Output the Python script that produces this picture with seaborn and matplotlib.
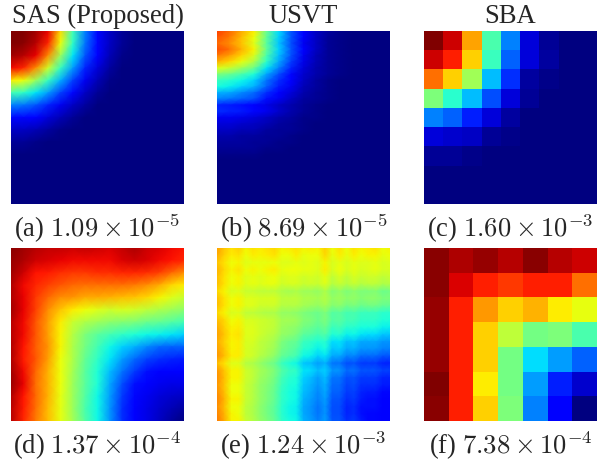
import numpy as np
import matplotlib
matplotlib.use('Agg')
import matplotlib.pyplot as plt
import seaborn as sns

sns.set_style('white')
plt.rcParams['font.family'] = ['Liberation Serif', 'DejaVu Serif']
plt.rcParams['mathtext.fontset'] = 'cm'

column_titles = ['SAS (Proposed)', 'USVT', 'SBA']
captions = [r'(a) $1.09 \times 10^{-5}$', r'(b) $8.69 \times 10^{-5}$', r'(c) $1.60 \times 10^{-3}$',
            r'(d) $1.37 \times 10^{-4}$', r'(e) $1.24 \times 10^{-3}$', r'(f) $7.38 \times 10^{-4}$']

sas_top = [
    [1.00, 1.00, .97, .91, .68, .43, .25, .13, .06, .02, 0, 0, 0, 0, 0],
    [1.00, .99, .95, .87, .64, .41, .24, .13, .06, .02, 0, 0, 0, 0, 0],
    [.97, .95, .91, .76, .54, .35, .21, .11, .05, .01, 0, 0, 0, 0, 0],
    [.90, .87, .76, .60, .42, .28, .16, .08, .03, 0, 0, 0, 0, 0, 0],
    [.66, .64, .54, .42, .30, .19, .10, .05, .01, 0, 0, 0, 0, 0, 0],
    [.43, .41, .35, .28, .19, .13, .06, .02, 0, 0, 0, 0, 0, 0, 0],
    [.25, .24, .21, .16, .10, .06, .03, 0, 0, 0, 0, 0, 0, 0, 0],
    [.13, .13, .11, .08, .05, .02, 0, 0, 0, 0, 0, 0, 0, 0, 0],
    [.06, .06, .05, .03, .01, 0, 0, 0, 0, 0, 0, 0, 0, 0, 0],
    [.02, .02, .01, 0, 0, 0, 0, 0, 0, 0, 0, 0, 0, 0, 0],
    [0, 0, 0, 0, 0, 0, 0, 0, 0, 0, 0, 0, 0, 0, 0],
    [0, 0, 0, 0, 0, 0, 0, 0, 0, 0, 0, 0, 0, 0, 0],
    [0, 0, 0, 0, 0, 0, 0, 0, 0, 0, 0, 0, 0, 0, 0],
    [0, 0, 0, 0, 0, 0, 0, 0, 0, 0, 0, 0, 0, 0, 0],
    [0, 0, 0, 0, 0, 0, 0, 0, 0, 0, 0, 0, 0, 0, 0],
]

# more rows than columns, the USVT streaks run sideways
usvt_top = [
    [.84, .80, .73, .66, .48, .34, .21, .11, .06, .03, .01, 0, 0, 0, 0],
    [.82, .78, .71, .64, .47, .33, .21, .11, .06, .02, .01, 0, 0, 0, 0],
    [.80, .76, .70, .62, .46, .32, .20, .10, .06, .02, .01, 0, 0, 0, 0],
    [.83, .79, .72, .65, .47, .33, .21, .11, .06, .02, .01, 0, 0, 0, 0],
    [.78, .74, .68, .61, .44, .31, .20, .10, .05, .02, .01, 0, 0, 0, 0],
    [.72, .68, .63, .56, .41, .29, .18, .09, .05, .02, .01, 0, 0, 0, 0],
    [.62, .59, .54, .48, .35, .25, .16, .08, .04, .02, .01, 0, 0, 0, 0],
    [.50, .48, .44, .39, .29, .20, .13, .07, .04, .02, .01, 0, 0, 0, 0],
    [.42, .40, .37, .33, .24, .17, .11, .06, .03, .01, 0, 0, 0, 0, 0],
    [.38, .36, .33, .30, .22, .15, .10, .05, .03, .01, 0, 0, 0, 0, 0],
    [.30, .29, .26, .23, .17, .12, .08, .04, .02, .01, 0, 0, 0, 0, 0],
    [.25, .24, .22, .20, .14, .10, .06, .03, .02, .01, 0, 0, 0, 0, 0],
    [.16, .15, .14, .12, .09, .06, .04, .02, .01, 0, 0, 0, 0, 0, 0],
    [.17, .16, .15, .13, .10, .07, .04, .02, .01, 0, 0, 0, 0, 0, 0],
    [.10, .10, .09, .08, .06, .04, .03, .01, .01, 0, 0, 0, 0, 0, 0],
    [.08, .08, .07, .06, .05, .03, .02, .01, 0, 0, 0, 0, 0, 0, 0],
    [.06, .06, .05, .05, .03, .02, .02, .01, 0, 0, 0, 0, 0, 0, 0],
    [.04, .04, .03, .03, .02, .02, .01, 0, 0, 0, 0, 0, 0, 0, 0],
    [.03, .03, .03, .02, .02, .01, .01, 0, 0, 0, 0, 0, 0, 0, 0],
    [.02, .02, .02, .02, .01, .01, 0, 0, 0, 0, 0, 0, 0, 0, 0],
    [.01, .01, .01, .01, 0, 0, 0, 0, 0, 0, 0, 0, 0, 0, 0],
    [0, 0, 0, 0, 0, 0, 0, 0, 0, 0, 0, 0, 0, 0, 0],
    [0, 0, 0, 0, 0, 0, 0, 0, 0, 0, 0, 0, 0, 0, 0],
    [0, 0, 0, 0, 0, 0, 0, 0, 0, 0, 0, 0, 0, 0, 0],
    [0, 0, 0, 0, 0, 0, 0, 0, 0, 0, 0, 0, 0, 0, 0],
    [0, 0, 0, 0, 0, 0, 0, 0, 0, 0, 0, 0, 0, 0, 0],
    [0, 0, 0, 0, 0, 0, 0, 0, 0, 0, 0, 0, 0, 0, 0],
    [0, 0, 0, 0, 0, 0, 0, 0, 0, 0, 0, 0, 0, 0, 0],
    [0, 0, 0, 0, 0, 0, 0, 0, 0, 0, 0, 0, 0, 0, 0],
]

sba_top = [
    [1.00, .93, .735, .44, .25, .08, .02, 0, 0],
    [.93, .876, .69, .42, .22, .08, .03, 0, 0],
    [.79, .69, .545, .31, .17, .03, .01, 0, 0],
    [.50, .40, .31, .20, .08, .02, 0, 0, 0],
    [.25, .22, .155, .08, .03, 0, 0, 0, 0],
    [.08, .07, .06, .02, .01, 0, 0, 0, 0],
    [.02, .02, .01, 0, 0, 0, 0, 0, 0],
    [0, 0, 0, 0, 0, 0, 0, 0, 0],
    [0, 0, 0, 0, 0, 0, 0, 0, 0],
]

sas_bottom = [
    [.99, .97, .95, .94, .94, .93, .94, .93, .92, .94, .96, .93, .92, .90, .89],
    [.98, .96, .93, .92, .91, .90, .90, .90, .90, .92, .93, .92, .90, .89, .87],
    [.97, .93, .89, .88, .86, .85, .85, .86, .86, .87, .87, .86, .84, .80, .76],
    [.96, .90, .87, .84, .82, .80, .79, .79, .79, .79, .78, .76, .73, .68, .66],
    [.96, .91, .85, .80, .76, .75, .73, .73, .72, .71, .70, .68, .65, .62, .59],
    [.97, .91, .84, .76, .70, .66, .64, .62, .60, .61, .60, .58, .56, .54, .52],
    [.95, .90, .82, .74, .66, .59, .56, .54, .52, .51, .50, .48, .47, .45, .43],
    [.95, .90, .82, .74, .65, .57, .50, .46, .43, .41, .39, .37, .36, .35, .33],
    [.96, .89, .81, .75, .65, .56, .49, .43, .37, .33, .30, .26, .23, .22, .22],
    [.96, .88, .82, .74, .64, .56, .47, .41, .35, .28, .23, .19, .17, .16, .15],
    [.97, .90, .80, .72, .64, .55, .46, .39, .31, .24, .18, .14, .12, .11, .11],
    [.98, .91, .79, .72, .64, .54, .46, .39, .29, .20, .14, .11, .10, .09, .09],
    [.96, .89, .80, .72, .63, .54, .45, .37, .28, .18, .13, .10, .08, .07, .06],
    [.95, .88, .79, .71, .63, .54, .44, .37, .27, .17, .12, .09, .07, .05, .03],
    [.95, .87, .78, .71, .63, .55, .45, .37, .27, .17, .11, .09, .06, .03, 0],
]

usvt_bottom = [
    [.74, .70, .67, .69, .65, .67, .66, .67, .68, .65, .66, .67, .65, .66, .65, .69, .64, .67, .64, .67, .65, .66, .67, .64, .65],
    [.73, .69, .66, .67, .64, .66, .65, .66, .67, .64, .64, .66, .63, .64, .64, .68, .63, .66, .63, .66, .64, .65, .65, .63, .64],
    [.70, .67, .64, .65, .62, .63, .63, .63, .64, .62, .62, .63, .62, .63, .62, .65, .61, .63, .61, .63, .62, .62, .63, .61, .62],
    [.72, .68, .65, .67, .64, .65, .64, .65, .66, .63, .64, .64, .63, .63, .62, .66, .61, .64, .61, .63, .61, .62, .63, .61, .61],
    [.71, .67, .64, .65, .62, .63, .62, .63, .64, .61, .62, .62, .60, .61, .60, .63, .58, .61, .58, .61, .59, .60, .60, .58, .59],
    [.71, .67, .64, .65, .62, .63, .62, .63, .63, .60, .61, .61, .59, .60, .59, .62, .57, .59, .57, .59, .57, .58, .58, .56, .57],
    [.68, .65, .61, .62, .59, .59, .58, .58, .58, .56, .55, .56, .54, .54, .53, .56, .51, .53, .50, .52, .50, .50, .51, .48, .49],
    [.71, .67, .64, .65, .62, .62, .61, .61, .61, .58, .58, .58, .56, .56, .55, .57, .53, .54, .52, .53, .51, .52, .52, .50, .50],
    [.71, .67, .64, .65, .62, .62, .60, .60, .60, .57, .57, .57, .55, .54, .53, .55, .51, .52, .49, .50, .48, .49, .49, .47, .47],
    [.68, .65, .61, .62, .58, .58, .57, .56, .56, .53, .53, .52, .50, .49, .48, .50, .45, .46, .43, .44, .42, .42, .42, .40, .40],
    [.71, .68, .64, .65, .61, .61, .60, .59, .58, .55, .55, .54, .51, .50, .48, .50, .45, .46, .43, .43, .41, .41, .41, .39, .39],
    [.73, .69, .65, .66, .62, .62, .60, .59, .58, .54, .53, .52, .49, .48, .46, .48, .42, .43, .40, .40, .38, .38, .38, .36, .36],
    [.74, .70, .66, .67, .62, .62, .60, .58, .57, .53, .52, .50, .46, .45, .43, .45, .39, .40, .36, .37, .35, .34, .34, .32, .32],
    [.73, .69, .65, .66, .61, .61, .58, .57, .55, .50, .48, .47, .42, .41, .39, .40, .34, .35, .31, .32, .29, .29, .29, .27, .27],
    [.74, .70, .65, .66, .61, .60, .58, .56, .54, .49, .47, .45, .40, .39, .36, .38, .32, .33, .29, .30, .27, .27, .27, .25, .25],
    [.75, .71, .66, .66, .61, .60, .57, .55, .52, .47, .45, .43, .37, .36, .33, .35, .29, .29, .25, .26, .23, .23, .23, .21, .21],
    [.71, .67, .62, .62, .57, .56, .53, .50, .48, .42, .39, .37, .32, .31, .28, .30, .24, .24, .20, .21, .18, .18, .18, .16, .16],
    [.75, .70, .65, .65, .60, .58, .55, .53, .50, .45, .42, .41, .35, .34, .31, .33, .27, .27, .23, .24, .21, .21, .21, .19, .19],
    [.76, .71, .65, .65, .60, .58, .54, .52, .49, .43, .40, .39, .33, .31, .28, .31, .24, .24, .20, .21, .18, .18, .18, .16, .16],
    [.75, .70, .64, .64, .59, .57, .53, .51, .48, .42, .39, .38, .32, .30, .27, .30, .23, .23, .19, .20, .17, .17, .17, .15, .15],
    [.76, .71, .64, .64, .59, .57, .53, .50, .47, .41, .38, .37, .31, .29, .26, .29, .22, .22, .18, .19, .16, .15, .15, .13, .13],
    [.77, .72, .65, .65, .59, .57, .53, .50, .47, .41, .38, .37, .30, .28, .25, .28, .21, .21, .17, .18, .15, .14, .14, .12, .12],
    [.76, .71, .64, .64, .58, .56, .52, .49, .46, .40, .37, .36, .29, .27, .24, .27, .20, .20, .16, .17, .14, .14, .14, .12, .12],
    [.77, .72, .65, .64, .58, .56, .52, .49, .46, .40, .37, .36, .29, .27, .24, .27, .20, .20, .16, .17, .14, .13, .13, .11, .11],
    [.78, .73, .65, .65, .59, .57, .53, .50, .47, .41, .38, .37, .30, .28, .25, .28, .21, .21, .17, .18, .15, .13, .13, .11, .11],
]

sba_bottom = [
    [.99, .96, .98, .95, .99, .95, .93],
    [.99, .92, .876, .85, .876, .876, .79],
    [.98, .876, .748, .69, .72, .66, .63],
    [.98, .876, .69, .58, .49, .50, .44],
    [.98, .876, .69, .49, .34, .28, .22],
    [1.00, .876, .66, .49, .28, .155, .07],
    [.99, .876, .69, .50, .25, .11, 0],
]

panels = [sas_top, usvt_top, sba_top, sas_bottom, usvt_bottom, sba_bottom]
W, H = 610, 463
lefts = [11, 217, 424]
tops = [31, 248]
size = 173

fig = plt.figure(figsize=(W / 100, H / 100), dpi=100)
for k, values in enumerate(panels):
    row, col = divmod(k, 3)
    ax = fig.add_axes([lefts[col] / W, 1 - (tops[row] + size) / H, size / W, size / H])
    data = np.array(values)
    # SBA is a block model so it stays blocky, the others are smooth
    if col == 2:
        sns.heatmap(data, cmap='jet', vmin=0, vmax=1, cbar=False, xticklabels=False, yticklabels=False, ax=ax)
    else:
        sns.heatmap(data, cmap='jet', vmin=0, vmax=1, cbar=False, xticklabels=False, yticklabels=False, ax=ax,
                    shading='gouraud')
        ax.set_xlim(0, data.shape[1] - 1)
        ax.set_ylim(data.shape[0] - 1, 0)
    if row == 0:
        ax.set_title(column_titles[col], fontsize=19.2, pad=6)
    ax.set_xlabel(captions[k], fontsize=19.2, labelpad=6)

fig.savefig('out.png', dpi=100)
